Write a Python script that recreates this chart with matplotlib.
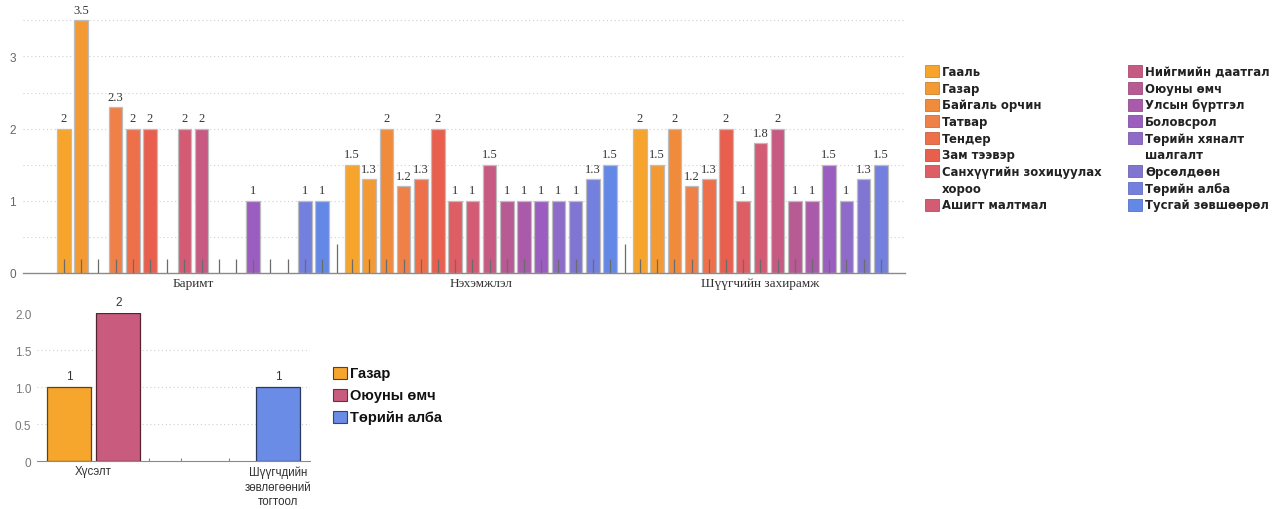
import matplotlib
matplotlib.use("Agg")
import matplotlib.pyplot as plt
from matplotlib.patches import Rectangle
import numpy as np
from matplotlib.colors import to_rgb

# ---------------- data ----------------
series = ["Гааль", "Газар", "Байгаль орчин", "Татвар", "Тендер", "Зам тээвэр",
          "Санхүүгийн зохицуулах\nхороо", "Ашигт малтмал", "Нийгмийн даатгал",
          "Оюуны өмч", "Улсын бүртгэл", "Боловсрол", "Төрийн хяналт\nшалгалт",
          "Өрсөлдөөн", "Төрийн алба", "Тусгай зөвшөөрөл"]
series_colors = ["#F7A42C", "#F49A35", "#F18B3C", "#EF8148", "#EE704A", "#E8604D",
                 "#DE5E65", "#D35C74", "#C75A82", "#B85A93", "#A95AA8", "#9B5EC0",
                 "#8E6BC8", "#8075D0", "#7480DE", "#6388E6"]
categories = ["Баримт", "Нэхэмжлэл", "Шүүгчийн захирамж"]
barimt = [2, 3.5, None, 2.3, 2, 2, None, 2, 2, None, None, 1, None, None, 1, 1]
nekhemjlel = [1.5, 1.3, 2, 1.2, 1.3, 2, 1, 1, 1.5, 1, 1, 1, 1, 1, 1.3, 1.5]
zakhiramj = [2, 1.5, 2, 1.2, 1.3, 2, 1, 1.8, 2, 1, 1, 1.5, 1, 1.3, 1.5]
top_values = [barimt, nekhemjlel, zakhiramj]
top_yticks = [0, 1, 2, 3]

b_series = ["Газар", "Оюуны өмч", "Төрийн алба"]
b_colors = ["#F6A52D", "#C95B7F", "#6A8BE6"]
b_categories = ["Хүсэлт", "Шүүгчдийн\nзөвлөгөөний\nтогтоол"]
khuselt = [1, 2, None]
togtool = [None, None, 1]
b_values = [khuselt, togtool]
b_yticks = [0, 0.5, 1.0, 1.5, 2.0]
b_yticklabels = ["0", "0.5", "1.0", "1.5", "2.0"]

W, H = 1274, 510
fig = plt.figure(figsize=(W / 100, H / 100), dpi=100)


def fx(px):
    return px / W


def fy(py):
    return 1 - py / H


def darker(c, f):
    r, g, b = to_rgb(c)
    return (r * f, g * f, b * f)


def fmt(v):
    return ("%g" % v)

# ---------------- top chart ----------------
px_slot = 17.2
GROUP = 16.744
ytop = 3.6
ax = fig.add_axes([fx(23), fy(274), fx(905) - fx(23), (ytop * 72.2) / H])
ax.set_xlim((23 - 64) / px_slot, (905 - 64) / px_slot)
ax.set_ylim(0, ytop)
for s in ["top", "right", "left"]:
    ax.spines[s].set_visible(False)
ax.spines["bottom"].set_color("#8a8a8a")
ax.spines["bottom"].set_linewidth(1.0)
for gy in np.arange(0.5, 3.51, 0.5):
    ax.axhline(gy, color="#cfcfcf", lw=0.8, ls=(0, (1, 2.5)), zorder=0)

centers = []
for g, vals in enumerate(top_values):
    xs = g * GROUP + np.arange(len(vals))
    centers.append(xs.mean())
    for j, v in enumerate(vals):
        if v is None:
            continue
        ax.bar(xs[j], v, width=0.8, color=series_colors[j], edgecolor="#bdbdbd",
               linewidth=0.9, zorder=2)
        ax.annotate(fmt(v), (xs[j], v), xytext=(0, 7.5), textcoords="offset points",
                    ha="center", va="center", fontsize=9, family="Liberation Serif",
                    color="#333333", annotation_clip=False)
    ax.vlines(xs, 0, 0.19, color="#6b6b6b", lw=0.9, zorder=3)
    if g < len(top_values) - 1:
        sep = xs[-1] + (GROUP - len(vals) + 1) / 2
        ax.vlines([sep], 0, 0.4, color="#6b6b6b", lw=0.9, zorder=3)

ax.set_xticks(centers)
ax.set_xticklabels(categories, family="Liberation Serif", fontsize=9.5, color="#333333")
ax.tick_params(axis="x", length=0, pad=3)
ax.set_yticks(top_yticks)
ax.set_yticklabels([str(t) for t in top_yticks], family="Liberation Sans", fontsize=8.5,
                   color="#666666")
ax.tick_params(axis="y", length=0, pad=5)

# top legend (manual, two columns)
row_step = 16.7
for col in range(2):
    y = 72.3
    xp = 925 if col == 0 else 1128
    for i in range(col * 8, col * 8 + 8):
        fig.patches.append(Rectangle((fx(xp), fy(y + 6)), 13.5 / W, 12 / H,
                                     transform=fig.transFigure, facecolor=series_colors[i],
                                     edgecolor=darker(series_colors[i], 0.85), lw=0.6))
        for line in series[i].split("\n"):
            fig.text(fx(xp + 17), fy(y), line, ha="left", va="center",
                     family="DejaVu Sans", weight="bold", fontsize=8.4, color="#222222")
            y += row_step

# ---------------- bottom chart ----------------
bpx = 49.0
bx0 = 69.2
bax = fig.add_axes([fx(37), fy(462.3), fx(310) - fx(37), (2.0 * 74) / H])
bax.set_xlim((37 - bx0) / bpx, (310 - bx0) / bpx)
bax.set_ylim(0, 2.0)
for s in ["top", "right", "left"]:
    bax.spines[s].set_visible(False)
bax.spines["bottom"].set_color("#8a8a8a")
for gy in [0.5, 1.0, 1.5]:
    bax.axhline(gy, color="#cfcfcf", lw=0.8, ls=(0, (1, 2.5)), zorder=0)

group_start = [0, (278 - bx0) / bpx]
bcenters = []
for g, vals in enumerate(b_values):
    k = 0
    xs_g = []
    for j, v in enumerate(vals):
        if v is None:
            continue
        x = group_start[g] + k
        k += 1
        xs_g.append(x)
        bax.bar(x, v, width=0.89, color=b_colors[j], edgecolor=darker(b_colors[j], 0.4),
                linewidth=0.9, zorder=2)
        bax.annotate(fmt(v), (x, v), xytext=(0, 8), textcoords="offset points",
                     ha="center", va="center", fontsize=8.5, family="Liberation Sans",
                     color="#333333", annotation_clip=False)
    bcenters.append(np.mean(xs_g))
bax.vlines(list((np.array([149, 181, 229]) - bx0) / bpx), 0, 0.04,
           color="#888888", lw=0.8, zorder=3)
bax.set_xticks(bcenters)
bax.set_xticklabels(b_categories, family="Liberation Sans", fontsize=8.3, color="#333333",
                    linespacing=1.3)
bax.tick_params(axis="x", length=0, pad=3)
bax.set_yticks(b_yticks)
bax.set_yticklabels(b_yticklabels, family="Liberation Sans", fontsize=8.5, color="#777777")
bax.tick_params(axis="y", length=0, pad=4)

# bottom legend
for i, name in enumerate(b_series):
    y = 374 + i * 21.8
    fig.patches.append(Rectangle((fx(333), fy(y + 6)), 14 / W, 12 / H,
                                 transform=fig.transFigure, facecolor=b_colors[i],
                                 edgecolor="#444444", lw=0.8))
    fig.text(fx(350), fy(y), name, ha="left", va="center", family="Liberation Sans",
             weight="bold", fontsize=10.5, color="#111111")

fig.savefig("out.png", dpi=100)
